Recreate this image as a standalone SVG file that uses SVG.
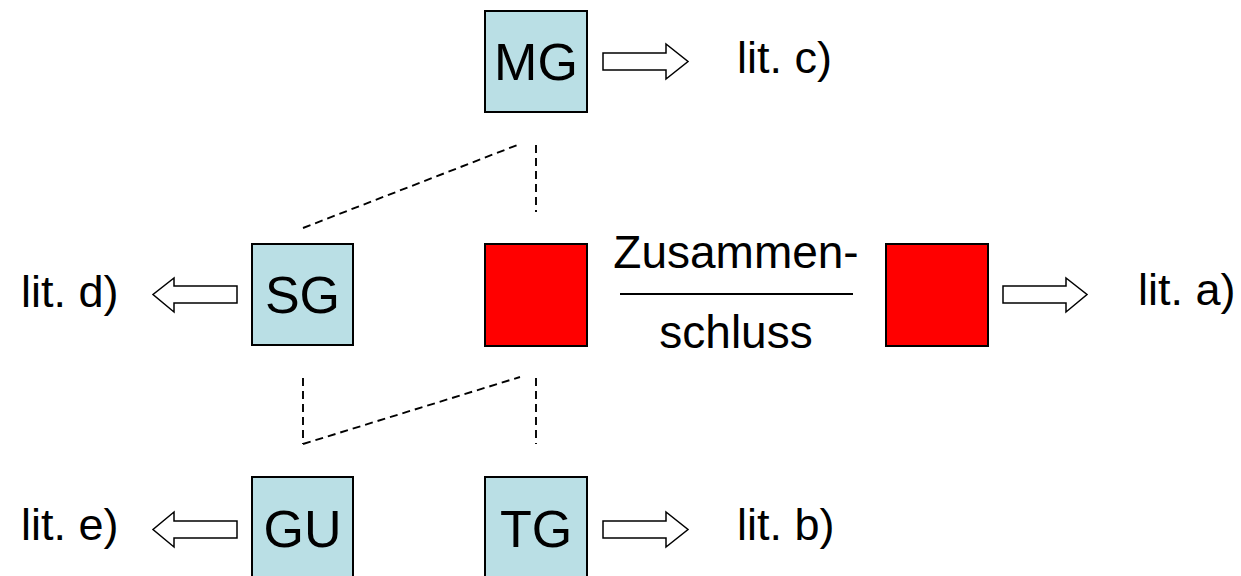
<svg xmlns="http://www.w3.org/2000/svg" width="1241" height="576" viewBox="0 0 1241 576">
<style>
.box{fill:#BADFE5;stroke:#000;stroke-width:2}
.red{fill:#FF0000;stroke:#000;stroke-width:2}
.arr{fill:#FFFFFF;stroke:#000;stroke-width:1.5;stroke-linejoin:miter}
.dash{stroke:#000;stroke-width:1.9;stroke-dasharray:8,5;fill:none}
.lbl{font-family:"Liberation Sans",Arial,sans-serif;font-size:45px;fill:#000}
.big{font-family:"Liberation Sans",Arial,sans-serif;font-size:52px;fill:#000;text-anchor:middle}
.mid{font-family:"Liberation Sans",Arial,sans-serif;font-size:46px;fill:#000;text-anchor:middle}
</style>
<rect width="1241" height="576" fill="#FFFFFF"/>
<g id="connectors">
<line class="dash" x1="303" y1="228" x2="520" y2="144"/>
<line class="dash" x1="536" y1="145" x2="536" y2="212"/>
<line class="dash" x1="303" y1="378" x2="303" y2="444"/>
<line class="dash" x1="303" y1="444" x2="520" y2="377"/>
<line class="dash" x1="536" y1="378" x2="536" y2="444"/>
<line x1="620" y1="294" x2="853" y2="294" stroke="#000" stroke-width="2"/>
</g>
<g id="MG">
<rect class="box" x="485" y="11" width="102" height="101"/>
<text class="big" x="536" y="80">MG</text>
</g>
<g id="arrow-c">
<polygon class="arr" points="603,53 666,53 666,44 688,61.5 666,79 666,70 603,70"/>
<text class="lbl" x="737" y="73">lit. c)</text>
</g>
<g id="SG">
<rect class="box" x="252" y="244" width="101" height="101"/>
<text class="big" x="302.5" y="313">SG</text>
</g>
<g id="arrow-d">
<polygon class="arr" points="237,286 174,286 174,278 153,294.5 174,312 174,303 237,303"/>
<text class="lbl" x="21" y="307">lit. d)</text>
</g>
<g id="red1">
<rect class="red" x="485" y="244" width="102" height="102"/>
</g>
<g id="label-zusammenschluss">
<text class="mid" x="736" y="268">Zusammen-</text>
<text class="mid" x="736" y="348">schluss</text>
</g>
<g id="red2">
<rect class="red" x="886" y="244" width="102" height="102"/>
</g>
<g id="arrow-a">
<polygon class="arr" points="1003,286 1066,286 1066,278 1087,294.5 1066,312 1066,303 1003,303"/>
<text class="lbl" x="1138" y="305">lit. a)</text>
</g>
<g id="GU">
<rect class="box" x="252" y="477" width="101" height="110"/>
<text class="big" x="302.5" y="547">GU</text>
</g>
<g id="arrow-e">
<polygon class="arr" points="237,521 174,521 174,512 153,529.5 174,547 174,538 237,538"/>
<text class="lbl" x="21" y="540">lit. e)</text>
</g>
<g id="TG">
<rect class="box" x="485" y="477" width="102" height="110"/>
<text class="big" x="536" y="547">TG</text>
</g>
<g id="arrow-b">
<polygon class="arr" points="603,521 666,521 666,512 688,529.5 666,547 666,538 603,538"/>
<text class="lbl" x="737" y="540">lit. b)</text>
</g>
</svg>
